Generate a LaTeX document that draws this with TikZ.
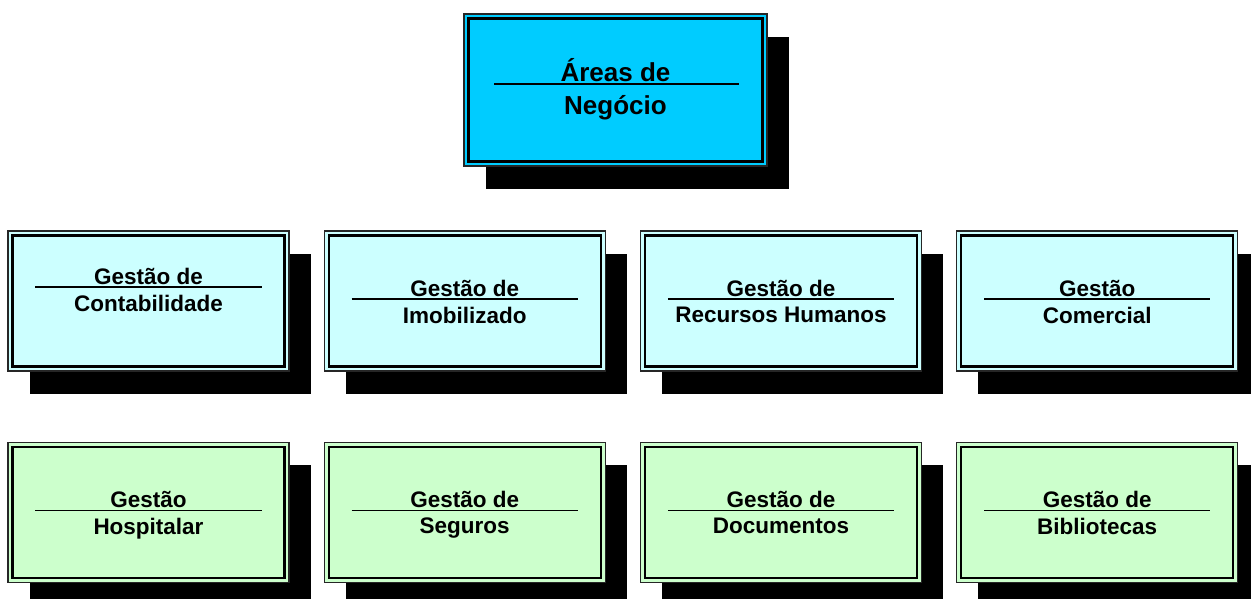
\documentclass[tikz,border=0pt]{standalone}
\usepackage{fontspec}
\setmainfont{Liberation Sans}
\usepackage{xcolor}
\usepackage{tikz}
\usetikzlibrary{shadows, positioning}

\definecolor{topblue}{HTML}{00CCFF}
\definecolor{paleblue}{HTML}{CCFFFF}
\definecolor{palegreen}{HTML}{CCFFCC}

\begin{document}
\begin{tikzpicture}[
        area/.style={draw=black!85, line width=0.7pt, minimum width=5.62cm, minimum height=2.8cm, inner sep=0,
            drop shadow={shadow xshift=0.43cm, shadow yshift=-0.45cm, fill=black, opacity=1},
            path picture={\draw[draw=black, line width=1.2pt] ([shift={(0.09cm,-0.09cm)}]path picture bounding box.north west) rectangle ([shift={(-0.09cm,0.09cm)}]path picture bounding box.south east);}},
        sepline/.style={line width=0.7pt},
        lbl/.style={inner sep=0, font=\bfseries\fontsize{12.8}{14}\selectfont},
        toplbl/.style={inner sep=0, font=\bfseries\fontsize{14.8}{16}\selectfont}
    ]
        \useasboundingbox (0,0) rectangle (25.02,-11.98);

        % Top box
        \node (areas) [area, fill=topblue, minimum width=6.06cm, minimum height=3.04cm] at (12.31,-1.8) {};

        % First row
        \node (contab) [area, fill=paleblue] at (2.97,-6.02) {};
        \node (imob) [area, fill=paleblue, right=0.68cm of contab] {};
        \node (rh) [area, fill=paleblue, right=0.68cm of imob] {};
        \node (comercial) [area, fill=paleblue, right=0.68cm of rh] {};

        % Second row
        \node (hospital) [area, fill=palegreen, below=1.4cm of contab] {};
        \node (seguros) [area, fill=palegreen, right=0.68cm of hospital] {};
        \node (docs) [area, fill=palegreen, right=0.68cm of seguros] {};
        \node (biblio) [area, fill=palegreen, right=0.68cm of docs] {};

        % Labels
        \draw [sepline] ([xshift=0.62cm, yshift=0.12cm]areas.west) -- ([xshift=-0.58cm, yshift=0.12cm]areas.east);
        \coordinate (areasmid) at ([yshift=0.12cm]areas.center);
        \node (areastop) [toplbl, anchor=base, yshift=0.05cm] at (areasmid) {Áreas de};
        \node (areasbot) [toplbl, anchor=north, yshift=-0.22cm] at (areasmid) {Negócio};

        \foreach \name/\first/\second/\off in {contab/Gestão de/Contabilidade/0.28, imob/Gestão de/Imobilizado/0.04,
                rh/Gestão de/Recursos Humanos/0.04, comercial/Gestão/Comercial/0.04,
                hospital/Gestão/Hospitalar/0.04, seguros/Gestão de/Seguros/0.04,
                docs/Gestão de/Documentos/0.04, biblio/Gestão de/Bibliotecas/0.04} {
            \coordinate (\name mid) at ([yshift=\off cm]\name.center);
            \draw [sepline] ([xshift=0.56cm, yshift=\off cm]\name.west) -- ([xshift=-0.56cm, yshift=\off cm]\name.east);
            \node (\name top) [lbl, anchor=base, yshift=0.06cm] at (\name mid) {\first};
            \node (\name bot) [lbl, anchor=north, yshift=-0.15cm] at (\name mid) {\second};
        }

    \end{tikzpicture}
\end{document}
